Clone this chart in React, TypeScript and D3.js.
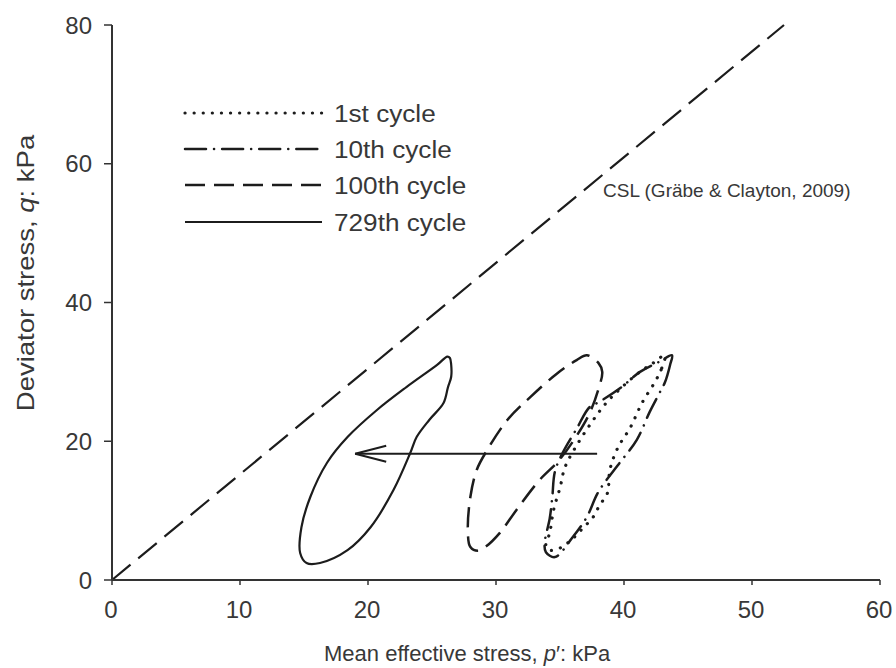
import React from "react";
import * as d3 from "d3";

const xTicks = [0, 10, 20, 30, 40, 50, 60];
const yTicks = [0, 20, 40, 60, 80];

const cycle1: [number, number][] = [
  [43.2, 32.4], [42.9, 30.3], [42.4, 28.5], [41.4, 25.5], [40.5, 22.0], [39.5, 19.0],
  [38.9, 15.9], [38.7, 12.5], [38.1, 10.8], [37.6, 9.1], [36.8, 7.5], [35.9, 5.8],
  [35.0, 4.6], [34.2, 4.3], [33.9, 5.0], [34.2, 6.8], [34.5, 10.1], [35.0, 13.3],
  [35.4, 16.3], [36.4, 19.7], [37.5, 22.8], [38.6, 25.5], [39.9, 27.9], [41.25, 30.0],
  [42.3, 31.3],
];

const cycle10: [number, number][] = [
  [43.75, 32.4], [43.6, 31.0], [43.2, 28.5], [42.7, 26.7], [42.0, 24.2], [41.0, 20.2],
  [39.5, 16.5], [38.0, 12.7], [37.1, 9.1], [36.0, 6.2], [34.6, 3.3], [33.9, 4.0],
  [33.8, 5.3], [34.2, 8.9], [34.4, 12.0], [34.6, 15.6], [35.2, 18.3], [36.3, 21.8],
  [37.3, 24.9], [38.0, 25.6], [39.8, 27.8], [41.25, 30.0], [42.8, 31.5],
];

const cycle100: [number, number][] = [
  [37.1, 32.4], [38.0, 31.3], [38.3, 30.0], [38.0, 27.5], [37.3, 24.0], [36.2, 20.5],
  [34.9, 17.2], [33.4, 14.4], [31.6, 10.1], [30.3, 6.8], [29.2, 4.8], [28.6, 4.2],
  [28.0, 4.75], [27.8, 7.2], [28.0, 12.0], [28.5, 15.9], [29.3, 18.7], [30.9, 23.1],
  [32.7, 26.4], [34.8, 29.8], [36.3, 31.7],
];

const cycle729: [number, number][] = [
  [26.4, 32.0], [26.5, 31.0], [26.5, 29.3], [26.25, 27.8], [25.9, 25.5], [24.8, 23.1],
  [23.8, 20.6], [23.3, 18.3], [22.0, 13.0], [20.2, 7.6], [18.4, 4.3], [16.25, 2.45],
  [15.2, 2.45], [14.7, 3.9], [14.8, 7.6], [15.5, 12.0], [16.8, 16.9], [18.4, 20.6],
  [20.7, 24.5], [23.0, 27.8], [25.4, 31.0], [26.2, 32.2],
];

const cslLine: [number, number][] = [[0, 0], [52.5, 80]];
const arrowFrom: [number, number] = [37.9, 18.2];
const arrowTo: [number, number] = [19.0, 18.2];

const legendLabels = ["1st cycle", "10th cycle", "100th cycle", "729th cycle"];
const cslLabel = "CSL (Gräbe & Clayton, 2009)";

const W = 896;
const H = 668;
const FONT = "'Liberation Sans', Arial, Helvetica, sans-serif";
const TEXT = "#383838";
const INK = "#1c1c1c";

export default function App() {
  const x = d3.scaleLinear().domain([0, 60]).range([112, 880]);
  const y = d3.scaleLinear().domain([0, 80]).range([580, 25]);

  const loop = d3
    .line<[number, number]>()
    .x((d) => x(d[0]))
    .y((d) => y(d[1]))
    .curve(d3.curveCatmullRomClosed.alpha(0.5));
  const straight = d3
    .line<[number, number]>()
    .x((d) => x(d[0]))
    .y((d) => y(d[1]));

  const series = [
    { data: cycle1, dash: "0.1 9", width: 3.2, cap: "round" },
    { data: cycle10, dash: "21 8 0.1 8", width: 2.5, cap: "round" },
    { data: cycle100, dash: "20 9", width: 2.5, cap: "butt" },
    { data: cycle729, dash: "none", width: 2.2, cap: "butt" },
  ];

  const legendY = [113, 149, 185, 222];

  const ax = x(arrowTo[0]);
  const ay = y(arrowTo[1]);

  return (
    <svg
      width={W}
      height={H}
      style={{ position: "absolute", left: 0, top: 0, background: "#fff" }}
      fontFamily={FONT}
    >
      {/* CSL */}
      <path
        d={straight(cslLine) || ""}
        fill="none"
        stroke={INK}
        strokeWidth={2.2}
        strokeDasharray="24 10"
      />
      <text x={603} y={197} fontSize={19} fill={TEXT}>
        {cslLabel}
      </text>

      {/* loops */}
      {series.map((s, i) => (
        <path
          key={i}
          d={loop(s.data) || ""}
          fill="none"
          stroke={INK}
          strokeWidth={s.width}
          strokeDasharray={s.dash}
          strokeLinecap={s.cap as any}
        />
      ))}

      {/* arrow */}
      <line x1={x(arrowFrom[0])} y1={y(arrowFrom[1])} x2={ax} y2={ay} stroke={INK} strokeWidth={2} />
      <path
        d={`M${ax + 31},${ay - 8} L${ax},${ay} L${ax + 31},${ay + 8}`}
        fill="none"
        stroke={INK}
        strokeWidth={2}
      />

      {/* axes */}
      <line x1={x(0)} y1={y(0)} x2={x(60)} y2={y(0)} stroke="#333" strokeWidth={2} />
      <line x1={x(0)} y1={y(0)} x2={x(0)} y2={y(80)} stroke="#333" strokeWidth={2} />
      {xTicks.map((t) => (
        <g key={"x" + t}>
          <line x1={x(t)} x2={x(t)} y1={y(0)} y2={y(0) + 5} stroke="#333" strokeWidth={1.5} />
          <text x={x(t) - 1} y={618} fontSize={24} textAnchor="middle" fill={TEXT}>
            {t}
          </text>
        </g>
      ))}
      {yTicks.map((t) => (
        <g key={"y" + t}>
          <line x1={x(0) - 8} x2={x(0)} y1={y(t)} y2={y(t)} stroke="#333" strokeWidth={1.5} />
          <text x={92} y={y(t)} fontSize={24} textAnchor="end" dominantBaseline="central" fill={TEXT}>
            {t}
          </text>
        </g>
      ))}

      {/* axis labels */}
      <text x={324} y={661} fontSize={22} fill={TEXT}>
        Mean effective stress, <tspan fontStyle="italic">p</tspan>′: kPa
      </text>
      <g transform="translate(34,273) rotate(-90) scale(1.25,1.05)">
        <text x={0} y={0} fontSize={22} textAnchor="middle" fill={TEXT}>
          Deviator stress, <tspan fontStyle="italic">q</tspan>: kPa
        </text>
      </g>

      {/* legend */}
      {series.map((s, i) => (
        <g key={"l" + i}>
          <line
            x1={185}
            x2={322}
            y1={legendY[i]}
            y2={legendY[i]}
            stroke={INK}
            strokeWidth={s.width}
            strokeDasharray={s.dash}
            strokeLinecap={s.cap as any}
          />
          <g transform={`translate(334,${legendY[i]}) scale(1.09,1)`}>
            <text x={0} y={0} fontSize={24} dominantBaseline="central" fill={TEXT}>
              {legendLabels[i]}
            </text>
          </g>
        </g>
      ))}
    </svg>
  );
}
